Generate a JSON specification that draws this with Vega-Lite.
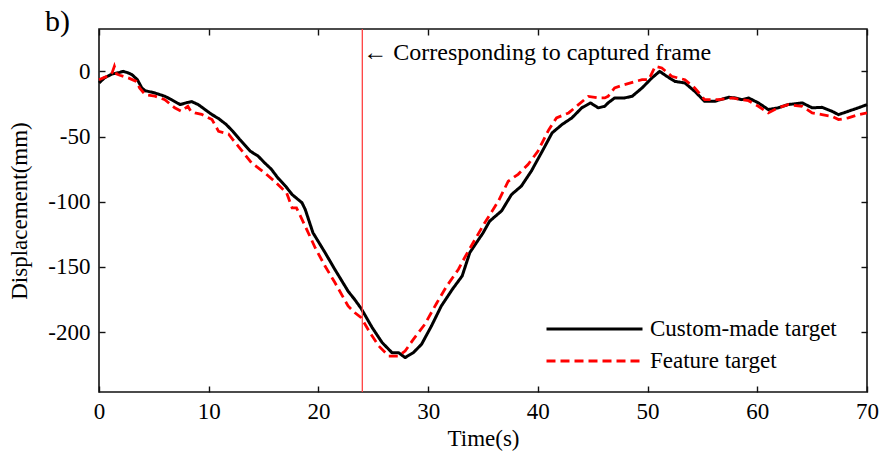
{
  "$schema": "https://vega.github.io/schema/vega-lite/v6.json",
  "width": 768,
  "height": 363,
  "autosize": "none",
  "padding": {"left": 99, "top": 29, "right": 12, "bottom": 60},
  "title": {"text": "b)", "anchor": "start", "frame": "group", "orient": "top", "baseline": "alphabetic", "dx": -54, "dy": 30, "offset": -3, "fontSize": 30, "font": "Liberation Serif", "fontWeight": "normal", "color": "#000"},
  "config": {
    "view": {"stroke": "#111", "strokeWidth": 1.6},
    "font": "Liberation Serif",
    "axis": {"labelFont": "Liberation Serif", "titleFont": "Liberation Serif", "labelFontSize": 23, "titleFontSize": 23, "labelColor": "#000", "titleColor": "#000", "titleFontWeight": "normal", "grid": false, "domain": false, "tickColor": "#111", "tickWidth": 1.4, "labelFlush": false}
  },
  "data": {"values": [
    {"s":"Custom-made target","t":0,"v":-8.9},{"s":"Custom-made target","t":0.5,"v":-5},{"s":"Custom-made target","t":1.2,"v":-2},{"s":"Custom-made target","t":1.8,"v":-1},{"s":"Custom-made target","t":2.2,"v":0},{"s":"Custom-made target","t":2.6,"v":-1},{"s":"Custom-made target","t":3.0,"v":-2.5},{"s":"Custom-made target","t":3.5,"v":-6.4},{"s":"Custom-made target","t":3.9,"v":-12.7},{"s":"Custom-made target","t":4.2,"v":-14.8},{"s":"Custom-made target","t":5.1,"v":-16.6},{"s":"Custom-made target","t":6.0,"v":-19.1},{"s":"Custom-made target","t":6.6,"v":-21.7},{"s":"Custom-made target","t":7.4,"v":-25.5},{"s":"Custom-made target","t":8.0,"v":-24},{"s":"Custom-made target","t":8.45,"v":-23.2},{"s":"Custom-made target","t":9.05,"v":-25.5},{"s":"Custom-made target","t":9.66,"v":-29.3},{"s":"Custom-made target","t":10.3,"v":-33.2},{"s":"Custom-made target","t":10.9,"v":-36.2},{"s":"Custom-made target","t":11.6,"v":-40.8},{"s":"Custom-made target","t":12.2,"v":-46},{"s":"Custom-made target","t":12.8,"v":-52},{"s":"Custom-made target","t":13.8,"v":-61.3},{"s":"Custom-made target","t":14.5,"v":-65},{"s":"Custom-made target","t":15.1,"v":-70.2},{"s":"Custom-made target","t":15.7,"v":-75},{"s":"Custom-made target","t":16.3,"v":-81.7},{"s":"Custom-made target","t":17.0,"v":-88},{"s":"Custom-made target","t":17.6,"v":-94.5},{"s":"Custom-made target","t":18.5,"v":-100.8},{"s":"Custom-made target","t":18.8,"v":-106},{"s":"Custom-made target","t":19.5,"v":-123.8},{"s":"Custom-made target","t":20.6,"v":-139},{"s":"Custom-made target","t":21.5,"v":-152},{"s":"Custom-made target","t":22.7,"v":-168.6},{"s":"Custom-made target","t":23.3,"v":-175},{"s":"Custom-made target","t":23.9,"v":-182},{"s":"Custom-made target","t":24.9,"v":-196.6},{"s":"Custom-made target","t":25.8,"v":-208},{"s":"Custom-made target","t":26.7,"v":-215.8},{"s":"Custom-made target","t":27.3,"v":-215.8},{"s":"Custom-made target","t":27.9,"v":-219.6},{"s":"Custom-made target","t":28.65,"v":-215.8},{"s":"Custom-made target","t":29.4,"v":-209.4},{"s":"Custom-made target","t":30.3,"v":-195.4},{"s":"Custom-made target","t":31.2,"v":-180},{"s":"Custom-made target","t":32.2,"v":-167.3},{"s":"Custom-made target","t":33.1,"v":-157},{"s":"Custom-made target","t":33.8,"v":-139},{"s":"Custom-made target","t":35.0,"v":-124},{"s":"Custom-made target","t":35.6,"v":-115},{"s":"Custom-made target","t":36.7,"v":-107},{"s":"Custom-made target","t":37.6,"v":-94.5},{"s":"Custom-made target","t":38.5,"v":-88},{"s":"Custom-made target","t":39.4,"v":-76.6},{"s":"Custom-made target","t":40.4,"v":-61.3},{"s":"Custom-made target","t":41.3,"v":-47.2},{"s":"Custom-made target","t":42.2,"v":-40.8},{"s":"Custom-made target","t":43.1,"v":-35.7},{"s":"Custom-made target","t":44.0,"v":-28},{"s":"Custom-made target","t":44.8,"v":-24.2},{"s":"Custom-made target","t":45.5,"v":-28},{"s":"Custom-made target","t":46.1,"v":-26.8},{"s":"Custom-made target","t":46.4,"v":-24.2},{"s":"Custom-made target","t":47.0,"v":-20.4},{"s":"Custom-made target","t":47.9,"v":-20.4},{"s":"Custom-made target","t":48.6,"v":-19.1},{"s":"Custom-made target","t":49.5,"v":-12.7},{"s":"Custom-made target","t":50.4,"v":-5},{"s":"Custom-made target","t":51.1,"v":0},{"s":"Custom-made target","t":51.75,"v":-3.8},{"s":"Custom-made target","t":52.5,"v":-7.7},{"s":"Custom-made target","t":53.4,"v":-8.9},{"s":"Custom-made target","t":54.3,"v":-15.3},{"s":"Custom-made target","t":55.2,"v":-23},{"s":"Custom-made target","t":56.1,"v":-23},{"s":"Custom-made target","t":57.4,"v":-19.9},{"s":"Custom-made target","t":58.0,"v":-20.4},{"s":"Custom-made target","t":58.6,"v":-21.7},{"s":"Custom-made target","t":59.2,"v":-20.4},{"s":"Custom-made target","t":60.1,"v":-24.2},{"s":"Custom-made target","t":61.0,"v":-29.3},{"s":"Custom-made target","t":61.9,"v":-28},{"s":"Custom-made target","t":62.8,"v":-25.5},{"s":"Custom-made target","t":64.1,"v":-24.2},{"s":"Custom-made target","t":65.0,"v":-28},{"s":"Custom-made target","t":65.9,"v":-27.6},{"s":"Custom-made target","t":66.8,"v":-30.6},{"s":"Custom-made target","t":67.4,"v":-33.2},{"s":"Custom-made target","t":68.3,"v":-30.6},{"s":"Custom-made target","t":69.2,"v":-28},{"s":"Custom-made target","t":70.0,"v":-25.5},
    {"s":"Feature target","t":0,"v":-6.4},{"s":"Feature target","t":0.5,"v":-4.6},{"s":"Feature target","t":1.0,"v":-3},{"s":"Feature target","t":1.2,"v":-1},{"s":"Feature target","t":1.4,"v":3.8},{"s":"Feature target","t":1.6,"v":-2},{"s":"Feature target","t":1.9,"v":-3},{"s":"Feature target","t":2.67,"v":-5},{"s":"Feature target","t":3.4,"v":-7.7},{"s":"Feature target","t":3.7,"v":-12.7},{"s":"Feature target","t":4.2,"v":-17.9},{"s":"Feature target","t":5.1,"v":-19},{"s":"Feature target","t":6.0,"v":-21.7},{"s":"Feature target","t":6.9,"v":-28},{"s":"Feature target","t":7.5,"v":-30.6},{"s":"Feature target","t":8.1,"v":-26.8},{"s":"Feature target","t":8.4,"v":-31},{"s":"Feature target","t":8.75,"v":-31.9},{"s":"Feature target","t":9.36,"v":-33},{"s":"Feature target","t":10.3,"v":-37},{"s":"Feature target","t":10.9,"v":-46},{"s":"Feature target","t":11.8,"v":-48},{"s":"Feature target","t":12.2,"v":-52.3},{"s":"Feature target","t":12.7,"v":-57.5},{"s":"Feature target","t":13.9,"v":-70.2},{"s":"Feature target","t":15.1,"v":-77.9},{"s":"Feature target","t":16.0,"v":-84.3},{"s":"Feature target","t":17.1,"v":-93.2},{"s":"Feature target","t":17.6,"v":-104.7},{"s":"Feature target","t":18.0,"v":-104.7},{"s":"Feature target","t":18.8,"v":-118.8},{"s":"Feature target","t":19.7,"v":-135.3},{"s":"Feature target","t":20.6,"v":-149.4},{"s":"Feature target","t":21.5,"v":-162},{"s":"Feature target","t":22.7,"v":-180},{"s":"Feature target","t":23.3,"v":-185},{"s":"Feature target","t":23.9,"v":-189},{"s":"Feature target","t":24.7,"v":-200.5},{"s":"Feature target","t":25.5,"v":-210.7},{"s":"Feature target","t":26.4,"v":-218.4},{"s":"Feature target","t":27.3,"v":-218.4},{"s":"Feature target","t":27.9,"v":-214.6},{"s":"Feature target","t":28.65,"v":-205.6},{"s":"Feature target","t":29.7,"v":-194},{"s":"Feature target","t":30.8,"v":-177.5},{"s":"Feature target","t":31.7,"v":-164.7},{"s":"Feature target","t":32.75,"v":-152},{"s":"Feature target","t":33.4,"v":-141.8},{"s":"Feature target","t":34.1,"v":-131.5},{"s":"Feature target","t":35.1,"v":-117},{"s":"Feature target","t":36.4,"v":-99.6},{"s":"Feature target","t":37.3,"v":-84.3},{"s":"Feature target","t":38.2,"v":-79},{"s":"Feature target","t":39.1,"v":-71.5},{"s":"Feature target","t":40.0,"v":-61.3},{"s":"Feature target","t":41.0,"v":-44.7},{"s":"Feature target","t":41.7,"v":-35.7},{"s":"Feature target","t":42.8,"v":-31.9},{"s":"Feature target","t":43.7,"v":-25.5},{"s":"Feature target","t":44.6,"v":-19.2},{"s":"Feature target","t":45.5,"v":-20.4},{"s":"Feature target","t":46.1,"v":-20.4},{"s":"Feature target","t":46.4,"v":-19.2},{"s":"Feature target","t":47.0,"v":-12.7},{"s":"Feature target","t":47.9,"v":-10.2},{"s":"Feature target","t":48.9,"v":-7.7},{"s":"Feature target","t":49.5,"v":-6.4},{"s":"Feature target","t":50.1,"v":-6.4},{"s":"Feature target","t":50.7,"v":3.8},{"s":"Feature target","t":51.3,"v":2.6},{"s":"Feature target","t":52.2,"v":-3.8},{"s":"Feature target","t":53.4,"v":-6.4},{"s":"Feature target","t":54.3,"v":-12.7},{"s":"Feature target","t":55.2,"v":-21.7},{"s":"Feature target","t":56.5,"v":-21.7},{"s":"Feature target","t":57.7,"v":-20.4},{"s":"Feature target","t":58.6,"v":-21.7},{"s":"Feature target","t":59.2,"v":-22.5},{"s":"Feature target","t":60.1,"v":-26.8},{"s":"Feature target","t":61.0,"v":-31.9},{"s":"Feature target","t":61.9,"v":-28},{"s":"Feature target","t":62.8,"v":-25.5},{"s":"Feature target","t":64.1,"v":-26.8},{"s":"Feature target","t":65.0,"v":-31.9},{"s":"Feature target","t":65.9,"v":-33.2},{"s":"Feature target","t":66.8,"v":-34.5},{"s":"Feature target","t":67.4,"v":-37},{"s":"Feature target","t":68.3,"v":-35.7},{"s":"Feature target","t":69.2,"v":-33.2},{"s":"Feature target","t":70.0,"v":-31.9}
  ]},
  "resolve": {"axis": {"x": "independent", "y": "independent"}},
  "layer": [
    {
      "transform": [{"filter": "datum.s === 'Custom-made target'"}],
      "mark": {"type": "line", "strokeWidth": 3, "strokeJoin": "round"},
      "encoding": {
        "x": {"field": "t", "type": "quantitative", "scale": {"domain": [0, 70], "nice": false}, "axis": {"orient": "bottom", "values": [0,10,20,30,40,50,60,70], "title": "Time(s)", "tickSize": -6, "labelPadding": 14, "titlePadding": 4}},
        "y": {"field": "v", "type": "quantitative", "scale": {"domain": [-246, 32.5], "nice": false, "zero": false}, "axis": {"orient": "left", "values": [0,-50,-100,-150,-200], "title": "Displacement(mm)", "tickSize": -6, "labelPadding": 15, "titlePadding": 16, "labelExpr": "replace(datum.label, '\u2212', '-')"}},
        "color": {"field": "s", "type": "nominal", "scale": {"domain": ["Custom-made target", "Feature target"], "range": ["#000000", "#ff0000"]}, "legend": {"orient": "none", "legendX": 446, "legendY": 284, "title": null, "symbolType": "stroke", "symbolSize": 9216, "symbolStrokeWidth": 2.8, "labelFont": "Liberation Serif", "labelFontSize": 23, "labelColor": "#000", "labelOffset": 6, "labelLimit": 400, "clipHeight": 32, "rowPadding": 0}},
        "strokeDash": {"field": "s", "type": "nominal", "scale": {"domain": ["Custom-made target", "Feature target"], "range": [[1, 0], [9, 5]]}}
      }
    },
    {
      "transform": [{"filter": "datum.s === 'Feature target'"}],
      "mark": {"type": "line", "strokeWidth": 2.8},
      "encoding": {
        "x": {"field": "t", "type": "quantitative", "axis": {"orient": "top", "values": [0,10,20,30,40,50,60,70], "labels": false, "title": null, "tickSize": -6}},
        "y": {"field": "v", "type": "quantitative", "axis": {"orient": "right", "values": [0,-50,-100,-150,-200], "labels": false, "title": null, "tickSize": -6}},
        "color": {"field": "s", "type": "nominal"},
        "strokeDash": {"field": "s", "type": "nominal"}
      }
    },
    {
      "data": {"values": [{"frame_t": 24}]},
      "mark": {"type": "rule", "color": "#ff4040", "strokeWidth": 1.3},
      "encoding": {"x": {"field": "frame_t", "type": "quantitative", "axis": null}}
    },
    {
      "data": {"values": [{"frame_t": 24, "label_v": 14, "label": "←  Corresponding to captured frame"}]},
      "mark": {"type": "text", "align": "left", "baseline": "middle", "fontSize": 24, "font": "Liberation Serif", "color": "#000", "dx": 1},
      "encoding": {"x": {"field": "frame_t", "type": "quantitative", "axis": null}, "y": {"field": "label_v", "type": "quantitative", "axis": null}, "text": {"field": "label"}}
    }
  ]
}
